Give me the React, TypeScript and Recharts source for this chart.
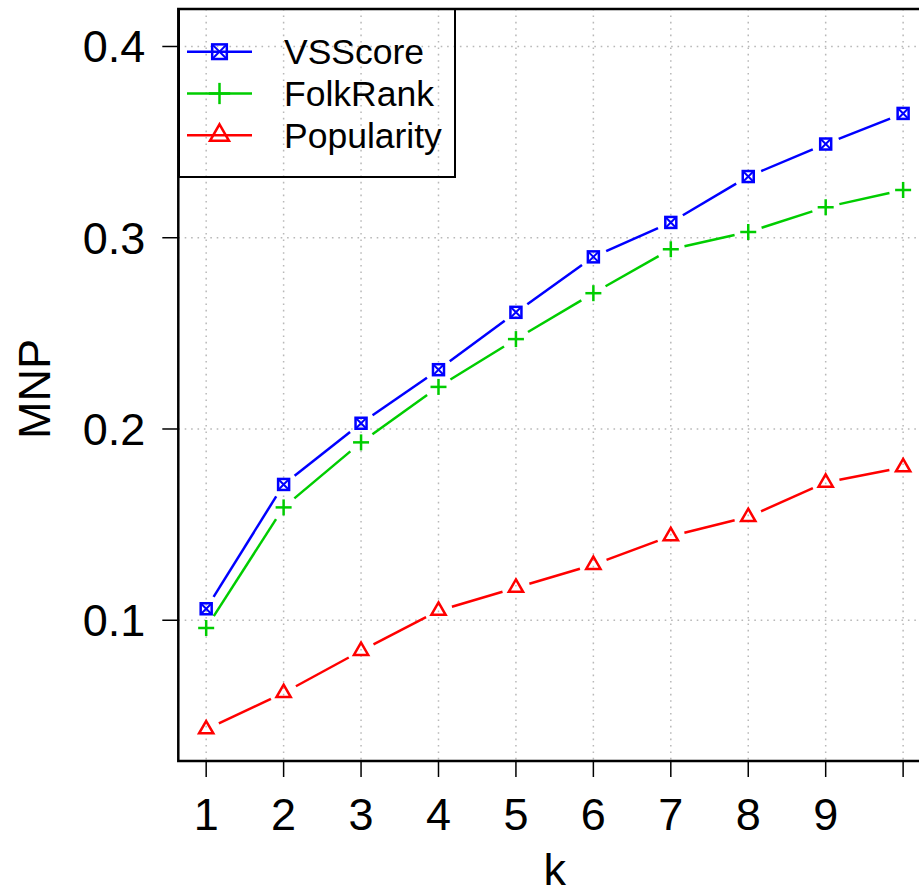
import { CartesianGrid, Label, Legend, Line, LineChart, ReferenceArea, XAxis, YAxis } from 'recharts';

const FONT = '"Liberation Sans", Arial, Helvetica, sans-serif';

// k = number of recommendations
const kValues = [1, 2, 3, 4, 5, 6, 7, 8, 9, 10];
const vsScore = [0.106, 0.171, 0.203, 0.231, 0.261, 0.290, 0.308, 0.332, 0.349, 0.365];
const folkRank = [0.096, 0.159, 0.193, 0.222, 0.247, 0.271, 0.294, 0.303, 0.316, 0.325];
const popularity = [0.043, 0.062, 0.084, 0.105, 0.117, 0.129, 0.144, 0.154, 0.172, 0.180];

const xTicks = [1, 2, 3, 4, 5, 6, 7, 8, 9, 10];
const yTicks = [0.1, 0.2, 0.3, 0.4];

const X_DOMAIN: [number, number] = [0.64, 10.36];
const Y_DOMAIN: [number, number] = [0.0264, 0.4196];

const BLUE = '#0000ff';
const GREEN = '#00cd00';
const RED = '#ff0000';

const series = [
  { key: 'vsScore', name: 'VSScore', color: BLUE, shape: 'boxx' },
  { key: 'folkRank', name: 'FolkRank', color: GREEN, shape: 'plus' },
  { key: 'popularity', name: 'Popularity', color: RED, shape: 'tri' },
];

const data = kValues.map((k, i) => ({
  k,
  vsScore: vsScore[i],
  folkRank: folkRank[i],
  popularity: popularity[i],
}));

const GAP = 14;

// R-style point symbols (pch 7, 3, 2), s = scale
function Marker({ shape, x, y, color, s = 1 }: any) {
  const sw = 2.5;
  if (shape === 'boxx') {
    const h = 5.5 * s;
    return (
      <g stroke={color} strokeWidth={sw} fill="none">
        <rect x={x - h} y={y - h} width={2 * h} height={2 * h} />
        <line x1={x - h} y1={y - h} x2={x + h} y2={y + h} strokeWidth={2} />
        <line x1={x - h} y1={y + h} x2={x + h} y2={y - h} strokeWidth={2} />
      </g>
    );
  }
  if (shape === 'plus') {
    const h = 8 * s;
    return (
      <g stroke={color} strokeWidth={sw}>
        <line x1={x - h} y1={y} x2={x + h} y2={y} />
        <line x1={x} y1={y - h} x2={x} y2={y + h} />
      </g>
    );
  }
  const r = 5.3 * s;
  const top = y - 1.5551 * r;
  const bot = y + 0.7776 * r;
  const xc = 1.3468 * r;
  return (
    <polygon
      points={`${x},${top} ${x + xc},${bot} ${x - xc},${bot}`}
      stroke={color}
      strokeWidth={sw}
      fill="none"
      strokeLinejoin="miter"
    />
  );
}

// type="b" look: marker plus a segment to the next point, with gaps around markers
function makeDot(color: string, shape: string) {
  return (props: any) => {
    const { cx, cy, index, points } = props;
    const next = points ? points[index + 1] : null;
    let seg = null;
    if (next) {
      const dx = next.x - cx;
      const dy = next.y - cy;
      const len = Math.hypot(dx, dy);
      if (len > 2 * GAP) {
        const ux = dx / len;
        const uy = dy / len;
        seg = (
          <line
            x1={cx + ux * GAP}
            y1={cy + uy * GAP}
            x2={next.x - ux * GAP}
            y2={next.y - uy * GAP}
            stroke={color}
            strokeWidth={2.5}
          />
        );
      }
    }
    return (
      <g key={`dot-${shape}-${index}`}>
        {seg}
        <Marker shape={shape} x={cx} y={cy} color={color} />
      </g>
    );
  };
}

function LegendBox() {
  const rows = [43.7, 85.5, 127.3];
  return (
    <svg width={278} height={170} style={{ display: 'block', overflow: 'visible' }}>
      <rect x={1} y={1} width={276} height={168} fill="none" stroke="#000" strokeWidth={2} />
      {series.map((s, i) => (
        <g key={s.key}>
          <line x1={9} y1={rows[i]} x2={74} y2={rows[i]} stroke={s.color} strokeWidth={2.5} />
          <Marker shape={s.shape} x={41.5} y={rows[i]} color={s.color} s={1.33} />
          <text x={106} y={rows[i]} dy="0.36em" fontSize={35.5} fontFamily={FONT} fill="#000">
            {s.name}
          </text>
        </g>
      ))}
    </svg>
  );
}

function YTitle(props: any) {
  const { viewBox } = props;
  const cy = viewBox.y + viewBox.height / 2 + 4;
  const x = 50;
  return (
    <text
      x={x}
      y={cy}
      transform={`rotate(-90, ${x}, ${cy})`}
      textAnchor="middle"
      fontSize={45}
      fontFamily={FONT}
      fill="#000"
    >
      MNP
    </text>
  );
}

export default function App() {
  return (
    <div
      style={{
        position: 'absolute',
        left: 0,
        top: 0,
        width: 919,
        height: 894,
        overflow: 'hidden',
        background: '#fff',
      }}
    >
      <LineChart width={931} height={894} data={data} margin={{ top: 9, right: 0, bottom: 0, left: 0 }}>
        <CartesianGrid stroke="#b8b8b8" strokeWidth={1.5} strokeDasharray="1.6 4.8" />
        <XAxis
          dataKey="k"
          type="number"
          domain={X_DOMAIN}
          ticks={xTicks}
          allowDataOverflow
          height={133}
          axisLine={false}
          tickLine={{ stroke: '#000', strokeWidth: 1.5 }}
          tickSize={16}
          tickMargin={21}
          tickFormatter={(v: number) => (v === 10 ? '' : String(v))}
          tick={{ fontSize: 45, fill: '#000', fontFamily: FONT }}
          interval={0}
        >
          <Label value="k" position="insideBottom" offset={9} fontSize={45} fill="#000" fontFamily={FONT} />
        </XAxis>
        <YAxis
          type="number"
          domain={Y_DOMAIN}
          ticks={yTicks}
          allowDataOverflow
          width={178.3}
          axisLine={false}
          tickLine={{ stroke: '#000', strokeWidth: 1.5 }}
          tickSize={16}
          tickMargin={17}
          tickFormatter={(v: number) => v.toFixed(1)}
          tick={{ fontSize: 45, fill: '#000', fontFamily: FONT }}
          interval={0}
        >
          <Label content={YTitle} />
        </YAxis>
        <ReferenceArea
          x1={X_DOMAIN[0]}
          x2={X_DOMAIN[1]}
          y1={Y_DOMAIN[0]}
          y2={Y_DOMAIN[1]}
          fill="none"
          fillOpacity={0}
          stroke="#000"
          strokeWidth={2.5}
          ifOverflow="visible"
        />
        {series.map((s) => (
          <Line
            key={s.key}
            dataKey={s.key}
            name={s.name}
            stroke="none"
            dot={makeDot(s.color, s.shape)}
            activeDot={false}
            isAnimationActive={false}
          />
        ))}
        <Legend
          layout="vertical"
          align="center"
          verticalAlign="middle"
          wrapperStyle={{ left: 178, top: 8, width: 278, height: 170 }}
          content={() => <LegendBox />}
        />
      </LineChart>
    </div>
  );
}
